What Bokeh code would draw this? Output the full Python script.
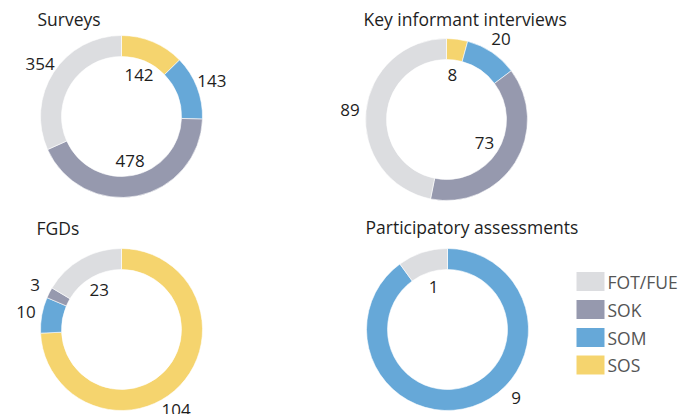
import math
from bokeh.plotting import figure
from bokeh.models import Range1d, ColumnDataSource
from bokeh.core.properties import value
from bokeh.embed import file_html
from bokeh.resources import INLINE

# ---- data ----
categories = ["SOS", "SOM", "SOK", "FOT/FUE"]
colors = ["#f5d46e", "#66a8d8", "#9699ae", "#dcdde0"]
titles = ["Surveys", "Key informant interviews", "FGDs", "Participatory assessments"]
surveys = [142, 143, 478, 354]
key_informant = [8, 20, 73, 89]
fgds = [104, 10, 3, 23]
participatory = [0, 9, 0, 1]
legend_order = ["FOT/FUE", "SOK", "SOM", "SOS"]

# label inside (True) or outside (False) of the ring
label_inside = [
    [True, False, True, False],
    [True, False, True, False],
    [False, False, False, True],
    [True, False, True, True],
]

series = [surveys, key_informant, fgds, participatory]

W, H = 698, 414
p = figure(width=W, height=H, output_backend="svg", toolbar_location=None,
           x_range=Range1d(0, W), y_range=Range1d(0, H),
           min_border=0, outline_line_color=None)
p.axis.visible = False
p.grid.visible = False
p.background_fill_color = "white"
p.border_fill_color = "white"

def X(px):
    return px

def Y(py):
    return H - py

# panel layout (page pixel coordinates)
centers = [(121, 116), (446, 119), (121, 329), (447, 329)]
title_pos = [(37, 18), (363, 18), (36, 227), (365, 226)]
R_OUT, R_IN = 81, 60
R_LAB_IN, R_LAB_OUT = 45, 97
# small angular nudges (degrees) for crowded outside labels
nudge = {(2, 0): 12, (3, 1): -27}
FONT = value("Open Sans")

for k, vals in enumerate(series):
    cx, cy = centers[k]
    total = float(sum(vals))
    cum = 0.0
    ws = dict(x=[], y=[], start=[], end=[], color=[])
    ls = dict(x=[], y=[], text=[])
    for i, v in enumerate(vals):
        if v <= 0:
            continue
        a0 = cum / total * 2 * math.pi
        cum += v
        a1 = cum / total * 2 * math.pi
        ws["x"].append(X(cx)); ws["y"].append(Y(cy))
        ws["start"].append(math.pi / 2 - a1)
        ws["end"].append(math.pi / 2 - a0)
        ws["color"].append(colors[i])
        am = (a0 + a1) / 2 + math.radians(nudge.get((k, i), 0))
        r = R_LAB_IN if label_inside[k][i] else R_LAB_OUT
        ls["x"].append(X(cx + r * math.sin(am)))
        ls["y"].append(Y(cy - r * math.cos(am)))
        ls["text"].append(str(v))
    p.annular_wedge(x="x", y="y", start_angle="start", end_angle="end",
                    inner_radius=R_IN, outer_radius=R_OUT,
                    inner_radius_units="screen", outer_radius_units="screen",
                    fill_color="color", line_color="white", line_width=0.6,
                    source=ColumnDataSource(ws))
    p.text(x="x", y="y", text="text", source=ColumnDataSource(ls),
           text_align="center", text_baseline="middle",
           text_font=FONT, text_font_size="17px", text_color="#1e1e1e")
    tx, ty = title_pos[k]
    p.text(x=[X(tx)], y=[Y(ty)], text=[titles[k]], text_align="left",
           text_baseline="middle", text_font=FONT, text_font_size="17.5px",
           text_color="#1e1e1e")

# legend
leg_y = [281, 309, 337, 364.5]
lx, ly, lc, lt = [], [], [], []
for j, name in enumerate(legend_order):
    lx.append(X(590)); ly.append(Y(leg_y[j]))
    lc.append(colors[categories.index(name)])
    lt.append(name)
p.rect(x=lx, y=ly, width=28, height=19, width_units="screen", height_units="screen",
       fill_color=lc, line_color=None)
p.text(x=[X(607)] * 4, y=ly, text=lt, text_align="left", text_baseline="middle",
       text_font=FONT, text_font_size="17.5px", text_color="#555555")

open("out.html", "w").write(file_html(p, INLINE))
